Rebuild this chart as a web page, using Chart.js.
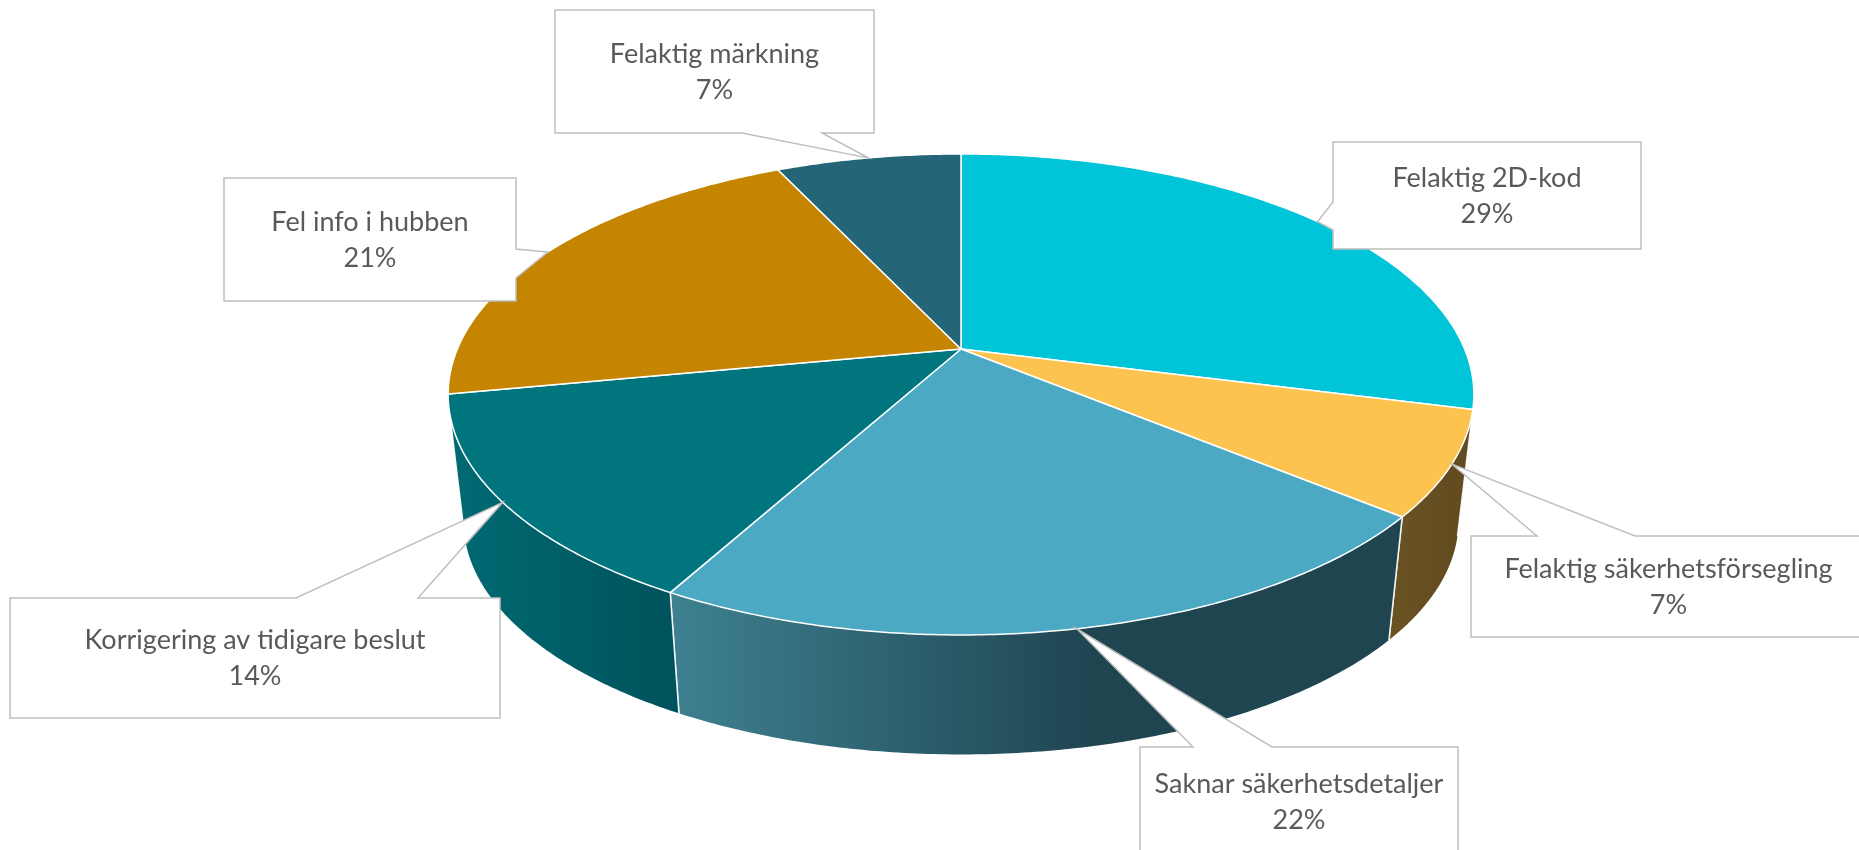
<!DOCTYPE html>
<html>
<head>
<meta charset="utf-8">
<script src="https://cdn.jsdelivr.net/npm/chart.js@4"></script>
<style>
  html, body { margin: 0; padding: 0; background: #fff; }
  #wrap { width: 1859px; height: 850px; }
</style>
</head>
<body>
<div id="wrap"><canvas id="chart" width="1859" height="850"></canvas></div>
<script>
// categories + values (percent as shown in the callouts)
const labels = [
  'Felaktig 2D-kod',
  'Felaktig säkerhetsförsegling',
  'Saknar säkerhetsdetaljer',
  'Korrigering av tidigare beslut',
  'Fel info i hubben',
  'Felaktig märkning',
];
const values = [29, 7, 22, 14, 21, 7];

// styles
const topColors = ['#00C4D7', '#FCC44F', '#4BA9C3', '#00757D', '#C58500', '#246677'];
const sideShades = [
  ['#00808C', '#006E79', 1],
  ['#6A5323', '#604A1F', 1],
  ['#3E8190', '#1F4551', 0.58],
  ['#006A73', '#00525B', 1],
  ['#8A5E00', '#6E4B00', 1],
  ['#1A4A57', '#153D48', 1],
];

// callout boxes (x1, y1, x2, y2), which side the pointer leaves from, and its base
const callouts = [
  { box: [1333, 142, 1641, 249], side: 'left', base: [202, 230] },
  { box: [1471, 536, 1866, 637], side: 'top', base: [1537, 1635] },
  { box: [1140, 747, 1458, 857], side: 'top', base: [1193, 1272] },
  { box: [10, 598, 500, 718], side: 'top', base: [296, 418] },
  { box: [224, 178, 516, 301], side: 'right', base: [249, 278] },
  { box: [555, 10, 874, 133], side: 'bottom', base: [742, 822] },
];

// 3d view, relative to the pie radius
const STRETCH = 1.443;  // horizontal radius
const TILT = 0.6645;    // vertical radius
const PERSP = -0.189;   // near side looks bigger
const DEPTH = 0.367;    // thickness
const SHRINK = 0.97;    // bottom face is further away

function project(arc, a, bottom) {
  const R = arc.outerRadius;
  const u = Math.cos(a), v = Math.sin(a);
  const d = 1 + PERSP * v;
  let dx = R * STRETCH * u / d;
  let dy = R * TILT * v / d;
  if (bottom) {
    dx *= SHRINK;
    dy = dy * SHRINK + R * DEPTH;
  }
  return [arc.x + dx, arc.y + dy];
}

function rimPoints(arc, a0, a1, bottom) {
  const pts = [];
  const n = Math.max(2, Math.ceil(Math.abs(a1 - a0) / 0.01));
  for (let i = 0; i <= n; i++) {
    pts.push(project(arc, a0 + (a1 - a0) * i / n, bottom));
  }
  return pts;
}

const pie3d = {
  id: 'pie3d',
  beforeDatasetsDraw(chart) {
    const ctx = chart.ctx;
    const arcs = chart.getDatasetMeta(0).data;
    // front half only: between the two silhouette points
    const vis0 = Math.asin(-PERSP);
    const vis1 = Math.PI - vis0;

    ctx.save();
    ctx.lineJoin = 'round';

    // sides
    arcs.forEach((arc, i) => {
      const s = Math.max(arc.startAngle, vis0);
      const e = Math.min(arc.endAngle, vis1);
      if (e <= s) return;
      const top = rimPoints(arc, s, e, false);
      const bot = rimPoints(arc, e, s, true);
      const all = top.concat(bot);
      const xs = all.map(p => p[0]);
      const x0 = Math.min(...xs), x1 = Math.max(...xs);
      const g = ctx.createLinearGradient(x0, 0, x1, 0);
      const sh = sideShades[i];
      g.addColorStop(0, sh[0]);
      g.addColorStop(sh[2], sh[1]);
      g.addColorStop(1, sh[1]);
      ctx.beginPath();
      all.forEach((p, k) => k ? ctx.lineTo(p[0], p[1]) : ctx.moveTo(p[0], p[1]));
      ctx.closePath();
      ctx.fillStyle = g;
      ctx.fill();
      // vertical seams between slices
      ctx.strokeStyle = 'rgba(255,255,255,0.9)';
      ctx.lineWidth = 1.5;
      [arc.startAngle, arc.endAngle].forEach(a => {
        if (a > vis0 && a < vis1) {
          const p = project(arc, a, false), q = project(arc, a, true);
          ctx.beginPath();
          ctx.moveTo(p[0], p[1]);
          ctx.lineTo(q[0], q[1]);
          ctx.stroke();
        }
      });
    });

    // top faces
    arcs.forEach((arc, i) => {
      const pts = rimPoints(arc, arc.startAngle, arc.endAngle, false);
      ctx.beginPath();
      ctx.moveTo(arc.x, arc.y);
      pts.forEach(p => ctx.lineTo(p[0], p[1]));
      ctx.closePath();
      ctx.fillStyle = topColors[i];
      ctx.fill();
      ctx.strokeStyle = '#ffffff';
      ctx.lineWidth = 1.5;
      ctx.stroke();
    });
    ctx.restore();
    return false;
  },
  afterDraw(chart) {
    const ctx = chart.ctx;
    const arcs = chart.getDatasetMeta(0).data;
    const total = values.reduce((a, b) => a + b, 0);
    ctx.save();
    callouts.forEach((c, i) => {
      const arc = arcs[i];
      const tip = project(arc, (arc.startAngle + arc.endAngle) / 2, false);
      const [x1, y1, x2, y2] = c.box;
      const [b0, b1] = c.base;
      const path = [[x1, y1]];
      if (c.side === 'top') path.push([b0, y1], tip, [b1, y1]);
      path.push([x2, y1]);
      if (c.side === 'right') path.push([x2, b0], tip, [x2, b1]);
      path.push([x2, y2]);
      if (c.side === 'bottom') path.push([b1, y2], tip, [b0, y2]);
      path.push([x1, y2]);
      if (c.side === 'left') path.push([x1, b1], tip, [x1, b0]);
      ctx.beginPath();
      path.forEach((p, k) => k ? ctx.lineTo(p[0], p[1]) : ctx.moveTo(p[0], p[1]));
      ctx.closePath();
      ctx.fillStyle = '#ffffff';
      ctx.fill();
      ctx.strokeStyle = '#BFBFBF';
      ctx.lineWidth = 1.5;
      ctx.stroke();

      const cx = (x1 + x2) / 2, cy = (y1 + y2) / 2;
      ctx.fillStyle = '#595959';
      ctx.font = '27px Lato';
      ctx.textAlign = 'center';
      ctx.textBaseline = 'alphabetic';
      ctx.fillText(labels[i], cx, cy - 9);
      ctx.fillText(Math.round(values[i] / total * 100) + '%', cx, cy + 27);
    });
    ctx.restore();
  },
};

new Chart(document.getElementById('chart'), {
  type: 'pie',
  data: {
    labels: labels,
    datasets: [{
      data: values,
      backgroundColor: topColors,
      borderWidth: 0,
    }],
  },
  options: {
    responsive: false,
    animation: false,
    devicePixelRatio: 1,
    layout: { padding: { left: 63, bottom: 152 } },
    plugins: {
      legend: { display: false },
      tooltip: { enabled: false },
    },
  },
  plugins: [pie3d],
});
</script>
</body>
</html>
